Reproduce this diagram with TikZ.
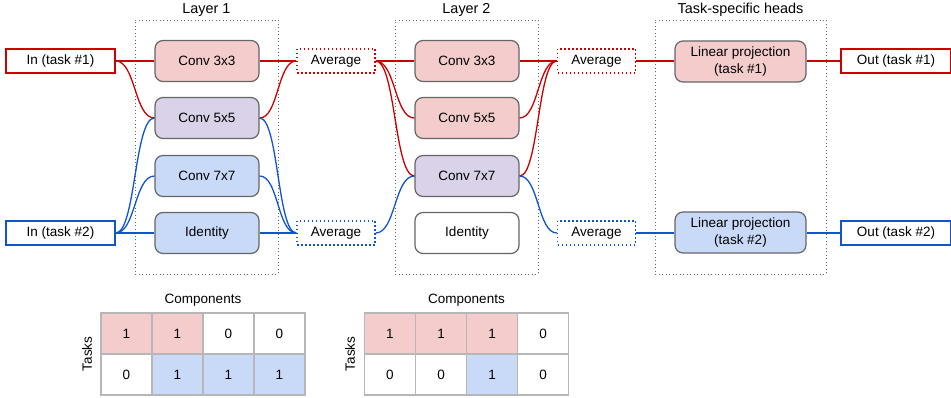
\documentclass[tikz,border=0pt]{standalone}
\usepackage{fontspec}
\setmainfont{Liberation Sans}
\definecolor{rline}{HTML}{CC0000}
\definecolor{bline}{HTML}{1155CC}
\definecolor{rfill}{HTML}{F4CCCC}
\definecolor{pfill}{HTML}{D9D2E9}
\definecolor{bfill}{HTML}{C9DAF8}
\definecolor{bordergray}{HTML}{666666}
\definecolor{cellgray}{HTML}{B7B7B7}
\begin{document}
\begin{tikzpicture}[x=1pt,y=-1pt,
  font=\fontsize{13.5}{17}\selectfont,
  opbox/.style={draw=bordergray, line width=1.2pt, rounded corners=8pt, minimum width=104pt, minimum height=41pt, inner sep=0pt, align=center},
  headbox/.style={opbox, minimum width=131pt},
  iobox/.style={line width=1.3pt, minimum width=109pt, minimum height=24pt, inner sep=0pt, fill=white},
  avgbox/.style={line width=1.3pt, dash pattern=on 1.5pt off 2.5pt, minimum width=78pt, minimum height=24pt, inner sep=0pt},
  layerbox/.style={draw=bordergray, line width=0.9pt, dash pattern=on 1pt off 2.5pt, minimum width=143pt, minimum height=254pt, inner sep=0pt},
  layerlabel/.style={font=\fontsize{14.4}{17}\selectfont},
  cellbox/.style={draw=cellgray, line width=1.2pt, minimum width=51pt, minimum height=41pt, inner sep=0pt},
  rl/.style={draw=rline, line width=1.3pt},
  bl/.style={draw=bline, line width=1.3pt}]
\useasboundingbox (0,0) rectangle (951,398);

% layer containers
\node[layerbox] (L1) at (206.5,147) {};
\node[layerbox] (L2) at (466.5,147) {};
\node[layerbox, minimum width=171pt] (L3) at (740.5,147) {};
\node[layerlabel] (L1lab) at (206.5,10) {Layer 1};
\node[layerlabel] (L2lab) at (466.5,10) {Layer 2};
\node[layerlabel] (L3lab) at (740.5,10) {Task-specific heads};

% inputs
\node[iobox, draw=rline] (in1) at (60.5,61) {In (task \#1)};
\node[iobox, draw=bline] (in2) at (60.5,233) {In (task \#2)};

% layer 1
\node[opbox, fill=rfill] (a1) at (207,61) {Conv 3x3};
\node[opbox, fill=pfill] (a2) at (207,118) {Conv 5x5};
\node[opbox, fill=bfill] (a3) at (207,176) {Conv 7x7};
\node[opbox, fill=bfill] (a4) at (207,233) {Identity};

\node[avgbox, draw=rline] (av1) at (336,61) {Average};
\node[avgbox, draw=bline] (av2) at (336,233) {Average};

% layer 2
\node[opbox, fill=rfill] (b1) at (467,61) {Conv 3x3};
\node[opbox, fill=rfill] (b2) at (467,118) {Conv 5x5};
\node[opbox, fill=pfill] (b3) at (467,176) {Conv 7x7};
\node[opbox, fill=white] (b4) at (467,233) {Identity};

\node[avgbox, draw=rline] (aw1) at (596.5,61) {Average};
\node[avgbox, draw=bline] (aw2) at (596.5,233) {Average};

% heads
\node[headbox, fill=rfill] (h1) at (740.5,61.5) {Linear projection\\(task \#1)};
\node[headbox, fill=bfill] (h2) at (740.5,232.5) {Linear projection\\(task \#2)};

% outputs
\node[iobox, draw=rline, minimum width=110pt] (out1) at (896,61) {Out (task \#1)};
\node[iobox, draw=bline, minimum width=110pt] (out2) at (896,233) {Out (task \#2)};

% edges layer 1
\draw[rl] (in1.east) .. controls +(20,0) and +(-20,0) .. (a1.west);
\draw[rl] (in1.east) .. controls +(20,0) and +(-20,0) .. (a2.west);
\draw[bl] (in2.east) .. controls +(20,0) and +(-20,0) .. (a2.west);
\draw[bl] (in2.east) .. controls +(20,0) and +(-20,0) .. (a3.west);
\draw[bl] (in2.east) .. controls +(20,0) and +(-20,0) .. (a4.west);

\draw[rl] (a1.east) .. controls +(19,0) and +(-19,0) .. (av1.west);
\draw[rl] (a2.east) .. controls +(19,0) and +(-19,0) .. (av1.west);
\draw[bl] (a2.east) .. controls +(19,0) and +(-19,0) .. (av2.west);
\draw[bl] (a3.east) .. controls +(19,0) and +(-19,0) .. (av2.west);
\draw[bl] (a4.east) .. controls +(19,0) and +(-19,0) .. (av2.west);

% edges layer 2
\draw[rl] (av1.east) .. controls +(20,0) and +(-20,0) .. (b1.west);
\draw[rl] (av1.east) .. controls +(20,0) and +(-20,0) .. (b2.west);
\draw[rl] (av1.east) .. controls +(20,0) and +(-20,0) .. (b3.west);
\draw[bl] (av2.east) .. controls +(20,0) and +(-20,0) .. (b3.west);

\draw[rl] (b1.east) .. controls +(19,0) and +(-19,0) .. (aw1.west);
\draw[rl] (b2.east) .. controls +(19,0) and +(-19,0) .. (aw1.west);
\draw[rl] (b3.east) .. controls +(19,0) and +(-19,0) .. (aw1.west);
\draw[bl] (b3.east) .. controls +(19,0) and +(-19,0) .. (aw2.west);

% heads edges
\draw[rl] (aw1.east) -- (h1.west |- aw1.east);
\draw[bl] (aw2.east) -- (h2.west |- aw2.east);
\draw[rl] (h1.east |- out1.west) -- (out1.west);
\draw[bl] (h2.east |- out2.west) -- (out2.west);

% table 1
\node (c1lab) at (203,300) {Components};
\node[rotate=90] (t1lab) at (87,354) {Tasks};
\node[cellbox, fill=rfill] (p11) at (126.5,333.5) {1};
\node[cellbox, fill=rfill] (p12) at (177.5,333.5) {1};
\node[cellbox, fill=white] (p13) at (228.5,333.5) {0};
\node[cellbox, fill=white] (p14) at (279.5,333.5) {0};
\node[cellbox, fill=white] (p21) at (126.5,374.5) {0};
\node[cellbox, fill=bfill] (p22) at (177.5,374.5) {1};
\node[cellbox, fill=bfill] (p23) at (228.5,374.5) {1};
\node[cellbox, fill=bfill] (p24) at (279.5,374.5) {1};

% table 2
\node (c2lab) at (466.5,300) {Components};
\node[rotate=90] (t2lab) at (350,354) {Tasks};
\node[cellbox, fill=rfill] (q11) at (390,333.5) {1};
\node[cellbox, fill=rfill] (q12) at (441,333.5) {1};
\node[cellbox, fill=rfill] (q13) at (492,333.5) {1};
\node[cellbox, fill=white] (q14) at (543,333.5) {0};
\node[cellbox, fill=white] (q21) at (390,374.5) {0};
\node[cellbox, fill=white] (q22) at (441,374.5) {0};
\node[cellbox, fill=bfill] (q23) at (492,374.5) {1};
\node[cellbox, fill=white] (q24) at (543,374.5) {0};
\end{tikzpicture}
\end{document}
